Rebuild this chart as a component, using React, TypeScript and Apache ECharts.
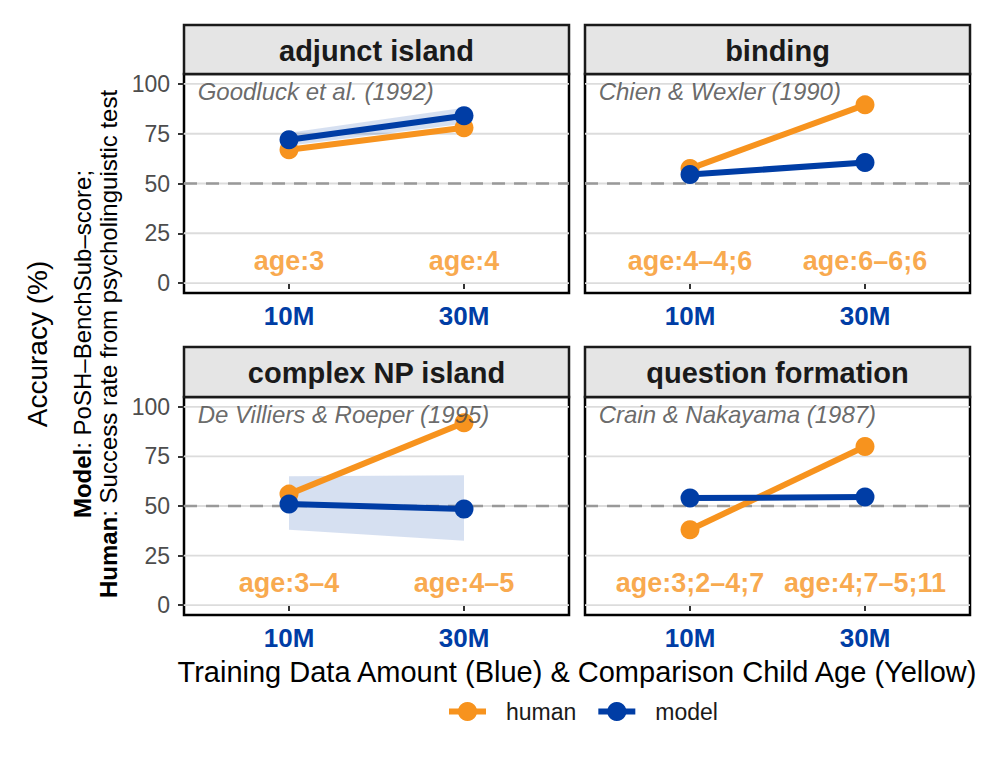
import React, { useEffect, useRef } from 'react';
import * as echarts from 'echarts';

// ---------- data ----------
const panels = ['adjunct island', 'binding', 'complex NP island', 'question formation'];
const citations = ['Goodluck et al. (1992)', 'Chien & Wexler (1990)', 'De Villiers & Roeper (1995)', 'Crain & Nakayama (1987)'];
const sizes = ['10M', '30M'];
const humanValues = [[67, 78], [57.5, 89.5], [56, 92], [38, 80]];
const modelValues = [[72, 84], [54.5, 60.5], [51, 48.5], [54, 54.5]];
const modelLower = [[69, 80], [53.5, 59.5], [38, 32.5], [53, 53.5]];
const modelUpper = [[75.5, 88], [55.5, 61.5], [65, 65.5], [55.5, 56]];
const ageLabels = [
  ['age:3', 'age:4'],
  ['age:4–4;6', 'age:6–6;6'],
  ['age:3–4', 'age:4–5'],
  ['age:3;2–4;7', 'age:4;7–5;11'],
];
const yTicks = [0, 25, 50, 75, 100];
const chanceLevel = 50;
const ageLabelY = 11;
const citationX = 0.475;
const citationY = 96;
const legendNames = ['human', 'model'];

// ---------- style ----------
const ORANGE = '#F7931E';
const BLUE = '#003DA5';
const FONT = '"Liberation Sans", Arial, Helvetica, sans-serif';
const X_MIN = 0.4;
const X_MAX = 2.6;
const Y_MIN = -5;
const Y_MAX = 105;

const colLeft = [184, 585];
const colW = 385;
const rowLayout = [
  { strip: 25, top: 74, h: 219 },
  { strip: 347, top: 397, h: 218 },
];

export default function App() {
  const ref = useRef<HTMLDivElement>(null);

  useEffect(() => {
    document.body.style.margin = '0';
    if (!ref.current) return;
    const chart = echarts.init(ref.current, undefined, { renderer: 'svg' });

    const grids: any[] = [];
    const xAxes: any[] = [];
    const yAxes: any[] = [];
    const series: any[] = [];
    const graphics: any[] = [];

    panels.forEach((name, g) => {
      const col = g % 2;
      const row = Math.floor(g / 2);
      const L = rowLayout[row];
      const left = colLeft[col];
      grids.push({
        left,
        top: L.top,
        width: colW,
        height: L.h,
        show: true,
        borderColor: '#000',
        borderWidth: 2.5,
        backgroundColor: 'transparent',
      });
      xAxes.push({
        gridIndex: g,
        type: 'value',
        min: X_MIN,
        max: X_MAX,
        axisLine: { show: false },
        splitLine: { show: false },
        axisTick: { show: true, customValues: [1, 2], length: 6, lineStyle: { color: '#333', width: 2 } },
        axisLabel: {
          customValues: [1, 2],
          formatter: (v: number) => sizes[Math.round(v) - 1] ?? '',
          color: BLUE,
          fontSize: 26,
          fontWeight: 'bold',
          fontFamily: FONT,
          margin: 10,
        },
      });
      yAxes.push({
        gridIndex: g,
        type: 'value',
        min: Y_MIN,
        max: Y_MAX,
        axisLine: { show: false },
        splitLine: { show: false },
        axisTick: { show: col === 0, customValues: yTicks, length: 6, lineStyle: { color: '#333', width: 2 } },
        axisLabel: {
          show: col === 0,
          customValues: yTicks,
          color: '#4D4D4D',
          fontSize: 23,
          fontFamily: FONT,
          margin: 14,
        },
      });

      // horizontal grid lines
      series.push({
        type: 'custom',
        xAxisIndex: g,
        yAxisIndex: g,
        silent: true,
        z: 1,
        data: yTicks.map((v) => [1.5, v]),
        encode: { x: 0, y: 1 },
        renderItem: (_p: any, api: any) => {
          const v = api.value(1);
          const a = api.coord([X_MIN, v]);
          const b = api.coord([X_MAX, v]);
          return {
            type: 'line',
            shape: { x1: a[0], y1: a[1], x2: b[0], y2: b[1] },
            style: { stroke: '#DCDCDC', lineWidth: 1.8 },
          };
        },
      });
      // chance line
      series.push({
        type: 'custom',
        xAxisIndex: g,
        yAxisIndex: g,
        silent: true,
        z: 2,
        data: [[1.5, chanceLevel]],
        encode: { x: 0, y: 1 },
        renderItem: (_p: any, api: any) => {
          const v = api.value(1);
          const a = api.coord([X_MIN, v]);
          const b = api.coord([X_MAX, v]);
          return {
            type: 'line',
            shape: { x1: a[0], y1: a[1], x2: b[0], y2: b[1] },
            style: { stroke: '#999999', lineWidth: 2.5, lineDash: [13, 9] },
          };
        },
      });
      // model ribbon
      series.push({
        type: 'custom',
        xAxisIndex: g,
        yAxisIndex: g,
        silent: true,
        z: 3,
        data: sizes.map((_, i) => [i + 1, modelLower[g][i], modelUpper[g][i]]),
        encode: { x: 0, y: [1, 2] },
        renderItem: (p: any, api: any) => {
          if (p.dataIndex !== 0) return null;
          const pts: number[][] = [];
          sizes.forEach((_, i) => pts.push(api.coord([i + 1, modelUpper[g][i]])));
          for (let i = sizes.length - 1; i >= 0; i--) pts.push(api.coord([i + 1, modelLower[g][i]]));
          return { type: 'polygon', shape: { points: pts }, style: { fill: 'rgba(0,61,165,0.16)' } };
        },
      });
      // human
      series.push({
        name: 'human',
        type: 'line',
        xAxisIndex: g,
        yAxisIndex: g,
        z: 4,
        data: sizes.map((_, i) => [i + 1, humanValues[g][i]]),
        symbol: 'circle',
        symbolSize: 19,
        showSymbol: true,
        lineStyle: { color: ORANGE, width: 6 },
        itemStyle: { color: ORANGE },
        emphasis: { disabled: true },
      });
      // model
      series.push({
        name: 'model',
        type: 'line',
        xAxisIndex: g,
        yAxisIndex: g,
        z: 5,
        data: sizes.map((_, i) => [i + 1, modelValues[g][i]]),
        symbol: 'circle',
        symbolSize: 19,
        showSymbol: true,
        lineStyle: { color: BLUE, width: 6 },
        itemStyle: { color: BLUE },
        emphasis: { disabled: true },
      });
      // age labels
      series.push({
        type: 'scatter',
        xAxisIndex: g,
        yAxisIndex: g,
        z: 6,
        silent: true,
        symbolSize: 1,
        itemStyle: { color: 'transparent' },
        data: sizes.map((_, i) => [i + 1, ageLabelY]),
        label: {
          show: true,
          position: 'inside',
          formatter: (p: any) => ageLabels[g][p.dataIndex],
          color: ORANGE,
          fontSize: 27,
          fontWeight: 'bold',
          fontFamily: FONT,
        },
      });
      // citation
      series.push({
        type: 'scatter',
        xAxisIndex: g,
        yAxisIndex: g,
        z: 6,
        silent: true,
        symbolSize: 1,
        itemStyle: { color: 'transparent' },
        data: [[citationX, citationY]],
        label: {
          show: true,
          position: 'right',
          distance: 0,
          formatter: () => citations[g],
          color: '#444444',
          fontSize: 24,
          fontStyle: 'italic',
          fontFamily: FONT,
        },
      });

      // strip
      graphics.push({
        type: 'rect',
        shape: { x: left, y: L.strip, width: colW, height: L.top - L.strip },
        style: { fill: '#E5E5E5', stroke: '#1A1A1A', lineWidth: 2.5 },
        z: 10,
      });
      graphics.push({
        type: 'text',
        x: left + colW / 2,
        y: (L.strip + L.top) / 2 + 1,
        z: 11,
        style: {
          text: name,
          fontSize: 29,
          fontWeight: 'bold',
          fontFamily: FONT,
          fill: '#1A1A1A',
          align: 'center',
          verticalAlign: 'middle',
          textAlign: 'center',
          textVerticalAlign: 'middle',
        },
      });
    });

    // axis titles
    graphics.push({
      type: 'text',
      x: 577,
      y: 672,
      style: {
        text: 'Training Data Amount (Blue) & Comparison Child Age (Yellow)',
        fontSize: 29,
        fontFamily: FONT,
        fill: '#000',
        align: 'center',
        verticalAlign: 'middle',
        textAlign: 'center',
        textVerticalAlign: 'middle',
      },
    });
    const yTitleLines = [
      { x: 37, text: 'Accuracy (%)', size: 28 },
      { x: 82, text: '{b|Model}: PoSH–BenchSub–score;', size: 24 },
      { x: 108, text: '{b|Human}: Success rate from psycholinguistic test', size: 24 },
    ];
    yTitleLines.forEach((ln) => {
      graphics.push({
        type: 'text',
        x: ln.x,
        y: 344,
        rotation: Math.PI / 2,
        style: {
          text: ln.text,
          fontSize: ln.size,
          fontFamily: FONT,
          fill: '#000',
          align: 'center',
          verticalAlign: 'middle',
          textAlign: 'center',
          textVerticalAlign: 'middle',
          rich: {
            b: { fontSize: ln.size, fontFamily: FONT, fontWeight: 'bold', fill: '#000' },
          },
        },
      });
    });

    chart.setOption({
      animation: false,
      textStyle: { fontFamily: FONT },
      grid: grids,
      xAxis: xAxes,
      yAxis: yAxes,
      series,
      graphic: { elements: graphics },
      legend: {
        data: legendNames,
        left: 446,
        top: 700,
        padding: 0,
        itemWidth: 37,
        itemHeight: 24,
        itemGap: 19,
        selectedMode: false,
        lineStyle: { width: 6 },
        textStyle: { fontSize: 23, color: '#1A1A1A', fontFamily: FONT, padding: [0, 0, 0, 15] },
      },
    });

    return () => chart.dispose();
  }, []);

  return <div ref={ref} style={{ width: 996, height: 761 }} />;
}
